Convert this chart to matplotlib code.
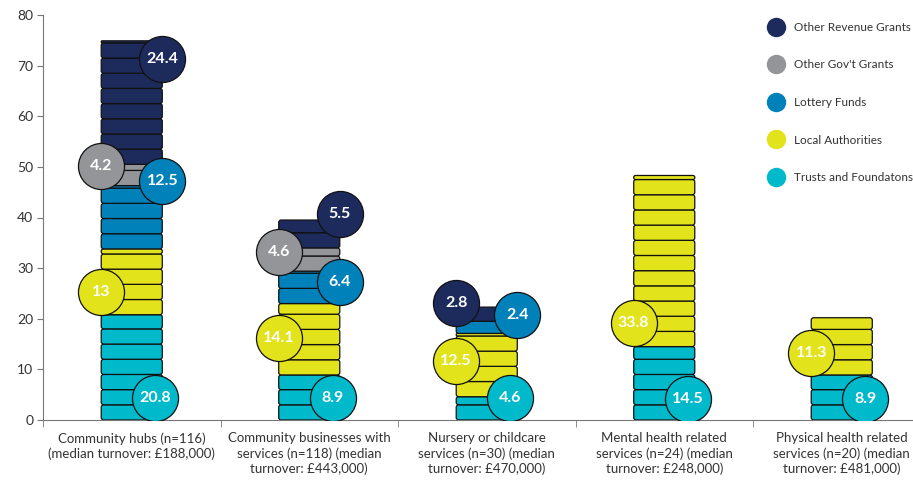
import matplotlib.pyplot as plt
from matplotlib.patches import FancyBboxPatch
from matplotlib.lines import Line2D
import numpy as np

plt.rcParams['font.family'] = ['Lato', 'DejaVu Sans']

# data (stack order bottom -> top)
categories = [
    'Community hubs (n=116)\n(median turnover: £188,000)',
    'Community businesses with\nservices (n=118) (median\nturnover: £443,000)',
    'Nursery or childcare\nservices (n=30) (median\nturnover: £470,000)',
    'Mental health related\nservices (n=24) (median\nturnover: £248,000)',
    'Physical health related\nservices (n=20) (median\nturnover: £481,000)',
]
sources = ['Trusts and Foundatons', 'Local Authorities', 'Lottery Funds',
           "Other Gov't Grants", 'Other Revenue Grants']
trusts = [20.8, 8.9, 4.6, 14.5, 8.9]
local_auth = [13, 14.1, 12.5, 33.8, 11.3]
lottery = [12.5, 6.4, 2.4, 0, 0]
gov_grants = [4.2, 4.6, 0, 0, 0]
other_rev = [24.4, 5.5, 2.8, 0, 0]

# label circle heights (layout only), same order as the stacks
label_y = [
    [4.4, 25.3, 47.2, 50.2, 71.3],
    [4.3, 16.2, 27.2, 33.2, 40.7],
    [4.3, 11.6, 20.7, None, 23.1],
    [4.2, 19.2, None, None, None],
    [4.2, 13.3, None, None, None],
]

colors = ['#00b9cb', '#e2e31b', '#0081b9', '#939598', '#1d2b5c']
series = [trusts, local_auth, lottery, gov_grants, other_rev]

fig = plt.figure(figsize=(9.13, 4.83), dpi=100)
ax = fig.add_axes([43 / 913, 63 / 483, 887.5 / 913, 405 / 483])
ax.set_xlim(-0.5, 4.5)
ax.set_ylim(0, 80)

coin_h = 3.0
bar_w = 0.344
aspect = (405 / 80) ** -1 / (887.5 / 5) ** -1
r = 0.014

for i in range(len(categories)):
    base = 0
    side = 1
    for k, vals in enumerate(series):
        v = vals[i]
        if v <= 0:
            continue
        y = base
        while y < base + v - 1e-6:
            h = min(coin_h, base + v - y)
            rr = min(r, h / aspect / 2.2)
            p = FancyBboxPatch((i - bar_w / 2, y), bar_w, h,
                               boxstyle='round,pad=0,rounding_size=%f' % rr,
                               mutation_aspect=aspect, fc=colors[k],
                               ec='#111111', lw=0.9, zorder=2)
            ax.add_patch(p)
            y += h
        ly = label_y[i][k]
        if k == 0:
            lx = i + 0.132
        else:
            lx = i + side * bar_w / 2
        ax.scatter([lx], [ly], s=1100, color=colors[k], edgecolor='#111111',
                   linewidth=0.9, zorder=3)
        ax.text(lx, ly, '%g' % v, color='white', fontsize=11.5, fontweight='bold',
                ha='center', va='center', zorder=4)
        side = -side
        base += v

for s in ['top', 'right']:
    ax.spines[s].set_visible(False)
for s in ['left', 'bottom']:
    ax.spines[s].set_color('#777777')
    ax.spines[s].set_linewidth(0.8)

ax.set_yticks(np.arange(0, 81, 10))
ax.tick_params(axis='y', length=4, color='#777777', labelsize=10,
               labelcolor='#333333', pad=3)
ax.set_xticks(range(len(categories)))
ax.set_xticklabels(categories, fontsize=9.5, color='#333333', linespacing=1.25)
ax.tick_params(axis='x', which='major', length=0, pad=9)
ax.set_xticks(np.arange(-0.5, 5, 1), minor=True)
ax.tick_params(axis='x', which='minor', length=5, color='#777777')

handles = [Line2D([], [], marker='o', linestyle='none', markersize=14,
                  markerfacecolor=c, markeredgecolor='none')
           for c in colors[::-1]]
fig.legend(handles, sources[::-1], loc='upper left',
           bbox_to_anchor=(762 / 913, 1 - 16 / 483), frameon=False,
           fontsize=8.5, labelspacing=2.25, handletextpad=0.85, borderpad=0,
           handlelength=1.35, labelcolor='#333333')

fig.savefig('out.png', dpi=100)
